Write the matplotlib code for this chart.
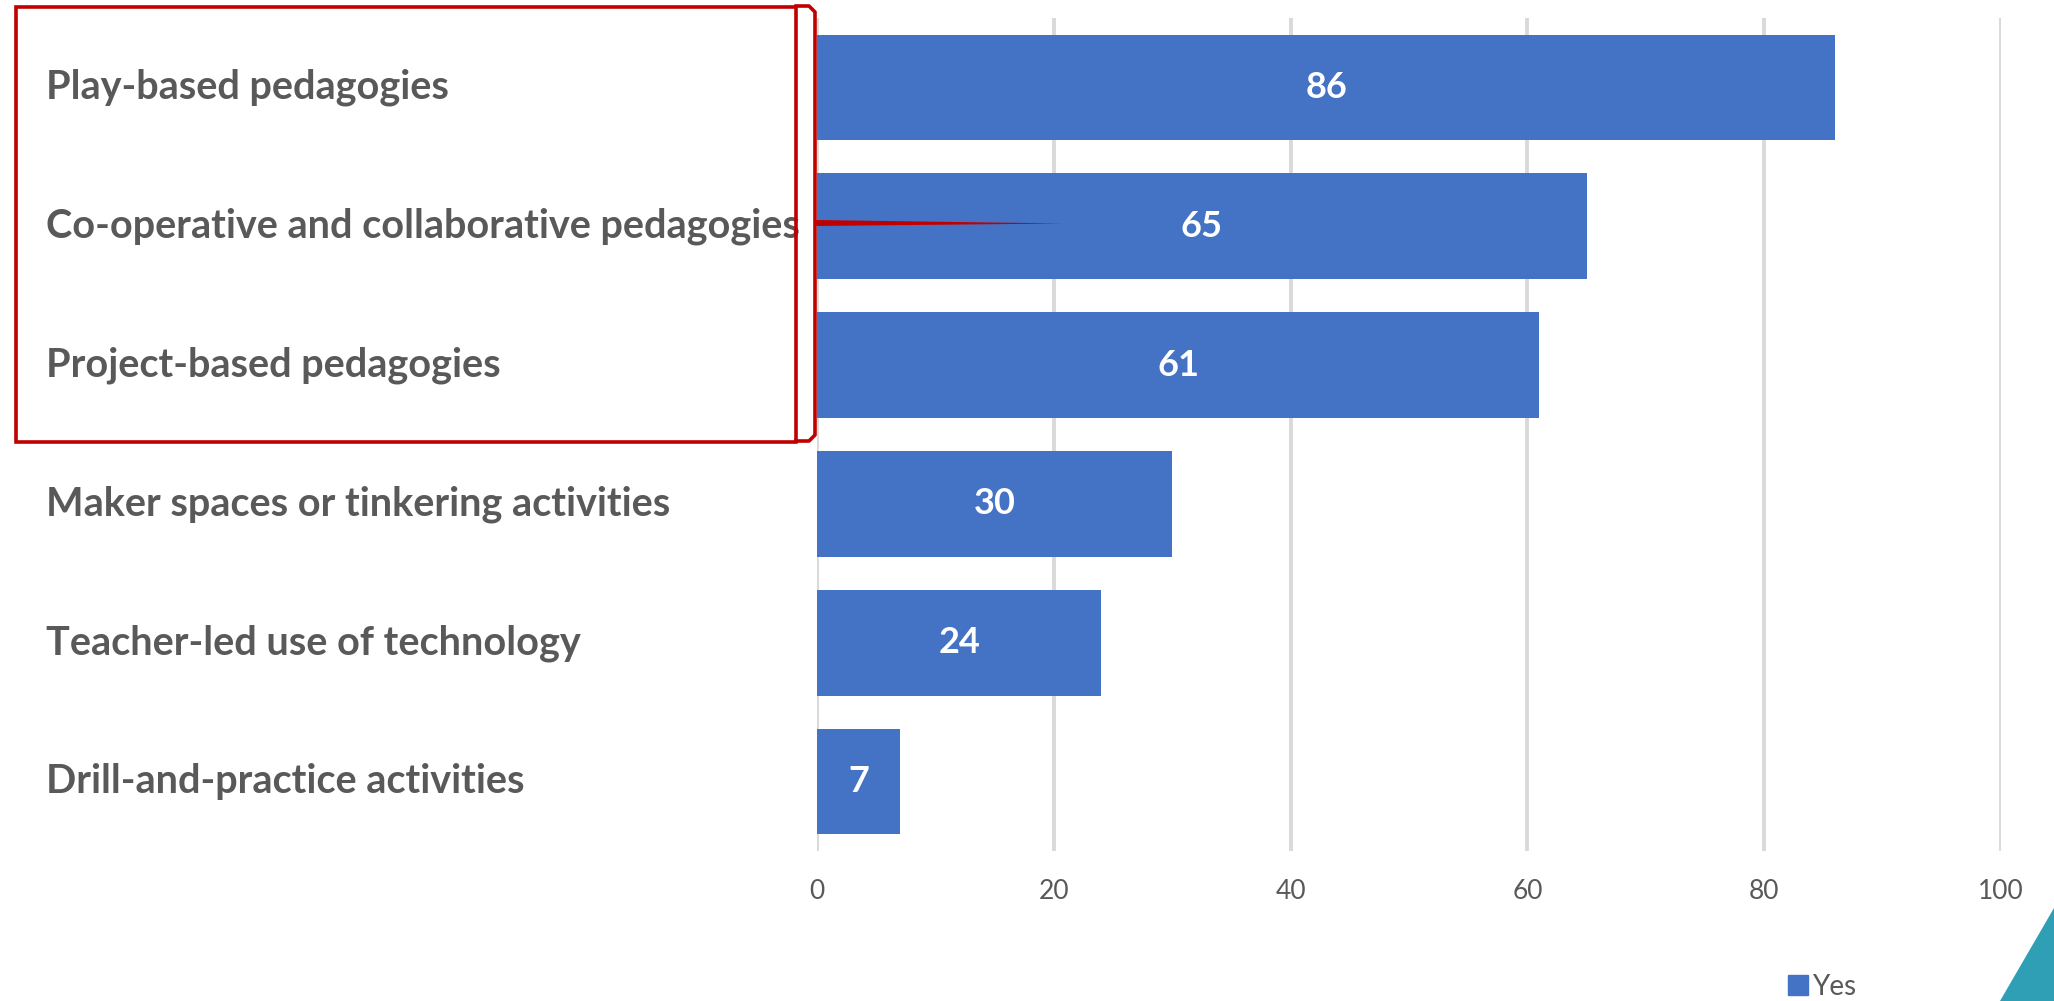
import matplotlib.pyplot as plt
from matplotlib.patches import Polygon, Rectangle, Patch
from matplotlib.lines import Line2D
from matplotlib.transforms import Affine2D, blended_transform_factory

# data
categories = ['Play-based pedagogies',
              'Co-operative and collaborative pedagogies',
              'Project-based pedagogies',
              'Maker spaces or tinkering activities',
              'Teacher-led use of technology',
              'Drill-and-practice activities']
values = [86, 65, 61, 30, 24, 7]
xticks = [0, 20, 40, 60, 80, 100]

W, H = 2054, 1001
blue = '#4472C4'
grey = '#595959'
red = '#C00000'
font = 'Lato'

fig = plt.figure(figsize=(W / 100, H / 100), dpi=100)
ax = fig.add_axes([817 / W, 1 - 851 / H, (2001 - 817) / W, (851 - 18) / H])

y = list(range(len(categories)))
ax.barh(y, values, height=0.76, color=blue, zorder=3)
ax.set_ylim(len(categories) - 0.5, -0.5)
ax.set_xlim(0, 100)

# value labels inside the bars
for yi, v in zip(y, values):
    ax.text(v / 2, yi, str(v), ha='center', va='center', color='white',
            fontsize=26, fontweight='bold', family=font, zorder=4)

# category labels, left aligned at the figure edge
tr = blended_transform_factory(fig.transFigure, ax.transData)
for yi, c in zip(y, categories):
    ax.text(46 / W, yi, c, transform=tr, ha='left', va='center',
            color=grey, fontsize=28.5, fontweight='bold', family=font)

ax.set_yticks([])
ax.set_xticks(xticks)
ax.set_xticklabels([str(t) for t in xticks], family=font, fontsize=19, color=grey)
ax.tick_params(axis='x', length=0, pad=20)
ax.grid(axis='x', color='#D9D9D9', linewidth=2.8, zorder=0)
for s in ax.spines.values():
    s.set_visible(False)

fig.legend(handles=[Patch(color=blue, label='Yes')], loc='center',
           bbox_to_anchor=(1822 / W, 1 - 987 / H), frameon=False,
           borderpad=0, handlelength=0.72, handleheight=0.72, handletextpad=0.15,
           prop={'family': font, 'size': 20}, labelcolor=grey)

# decorations in pixel coordinates (y down)
px = Affine2D().scale(1 / W, -1 / H).translate(0, 1) + fig.transFigure
fig.add_artist(Rectangle((16, 7), 780, 435, transform=px, fill=False,
                         edgecolor=red, linewidth=2.6))
bx = [796, 809, 815, 815, 809, 796]
by = [6, 6, 12, 435, 441, 441]
fig.add_artist(Line2D(bx, by, transform=px, color=red, linewidth=2.6))
fig.add_artist(Polygon([(815, 220), (815, 226), (1063, 223.5)], closed=True,
                       transform=px, color=red, linewidth=0))
fig.add_artist(Polygon([(2054, 908), (2000, 1001), (2054, 1001)], closed=True,
                       transform=px, color='#2E9FB5', linewidth=0))

fig.savefig('out.png', dpi=100)
